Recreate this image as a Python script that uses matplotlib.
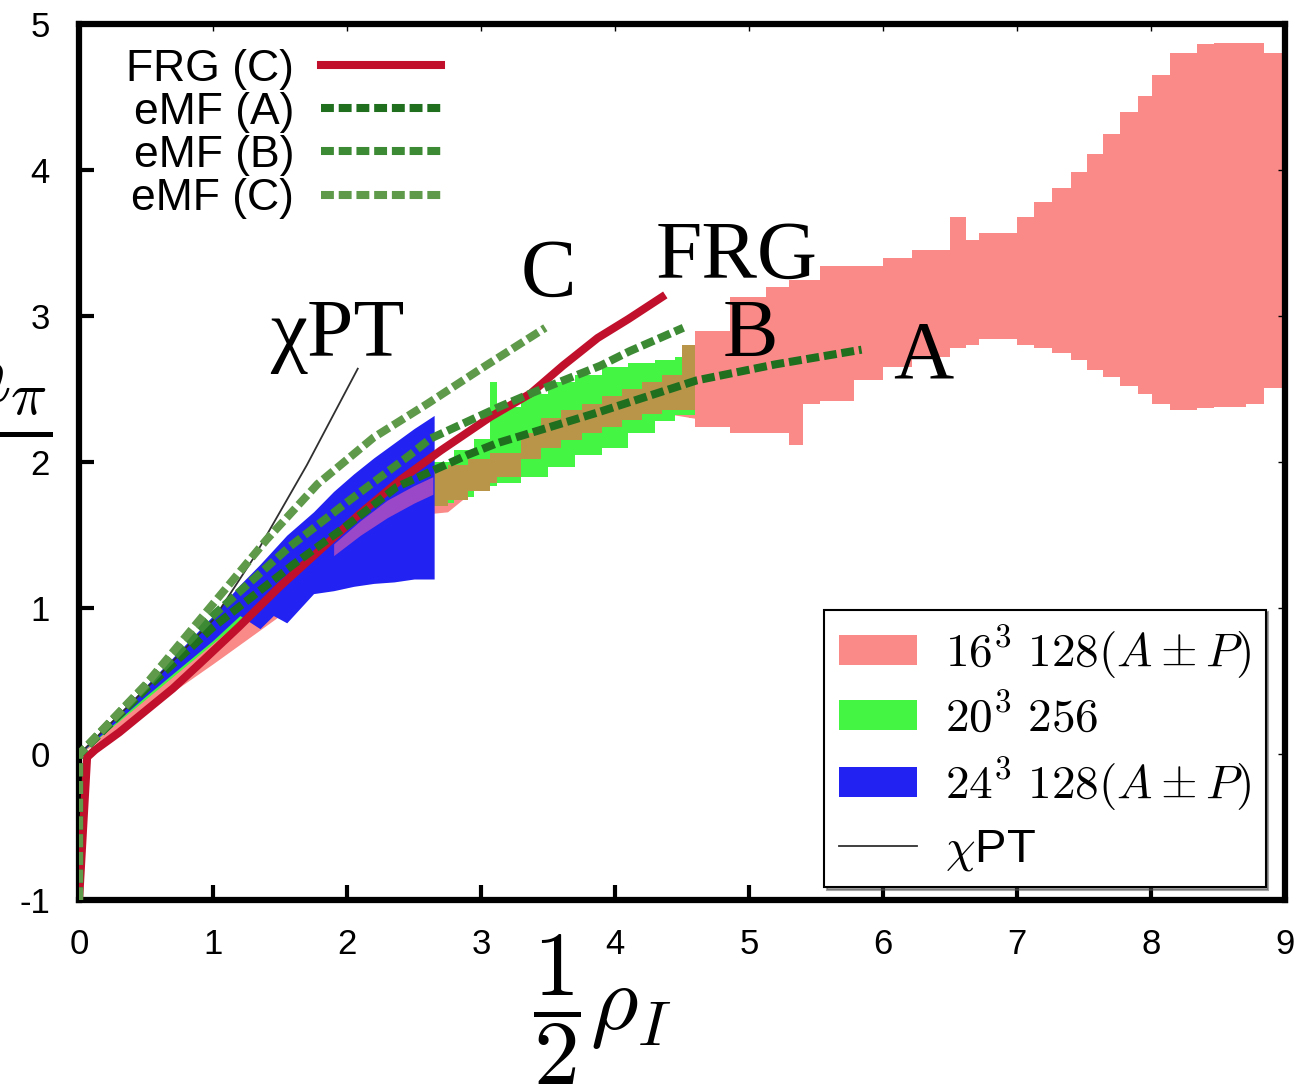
import matplotlib
matplotlib.use('Agg')
import matplotlib.pyplot as plt
from matplotlib.lines import Line2D
from matplotlib.patches import Patch

plt.rcParams['font.family'] = ['Liberation Sans', 'DejaVu Sans']
plt.rcParams['mathtext.fontset'] = 'cm'
plt.rcParams['axes.unicode_minus'] = False

# lattice bands (x, lower, upper)
# 16^3 band: left part sits under the other bands, right part is a staircase
pinkL_x = [0.0, 0.5, 1.0, 1.5, 2.0, 2.3, 2.64, 2.75, 3.07, 3.12, 3.5, 3.8, 4.1, 4.4, 4.6]
pinkL_hi = [0.0, 0.4, 0.78, 1.1, 1.5, 1.75, 1.95, 1.98, 2.06, 2.2, 2.38, 2.45, 2.49, 2.6, 2.8]
pinkL_lo = [0.0, 0.3, 0.62, 0.95, 1.3, 1.5, 1.65, 1.66, 1.9, 1.95, 2.13, 2.2, 2.28, 2.33, 2.3]

pink_x = [4.55, 4.6, 4.86, 5.13, 5.3, 5.4, 5.53, 5.78, 6.0, 6.22, 6.5, 6.62, 6.72,
          7.0, 7.13, 7.26, 7.4, 7.52, 7.64, 7.77, 7.9, 8.01, 8.14, 8.34, 8.47, 8.71,
          8.84, 9.0]
pink_hi = [2.8, 2.9, 3.13, 3.2, 3.25, 3.25, 3.34, 3.34, 3.4, 3.45, 3.68, 3.52, 3.57,
           3.68, 3.78, 3.88, 3.99, 4.11, 4.25, 4.4, 4.51, 4.65, 4.8, 4.86, 4.87, 4.87,
           4.8, 4.77]
pink_lo = [2.3, 2.24, 2.2, 2.2, 2.12, 2.4, 2.42, 2.56, 2.65, 2.72, 2.78, 2.8, 2.84,
           2.8, 2.78, 2.75, 2.7, 2.63, 2.58, 2.52, 2.47, 2.4, 2.36, 2.37, 2.38, 2.4,
           2.51, 2.54]

# 20^3 band: smooth part under the blue band, staircase part beyond it
greenL_x = [0.0, 0.5, 1.0, 1.4, 1.8, 2.2, 2.65]
greenL_hi = [0.0, 0.45, 0.9, 1.27, 1.6, 1.85, 2.0]
greenL_lo = [0.0, 0.38, 0.76, 1.06, 1.35, 1.55, 1.72]

green_x = [2.64, 2.8, 2.95, 3.07, 3.12, 3.3, 3.5, 3.7, 3.9, 4.1, 4.3, 4.45, 4.6]
green_hi = [2.0, 2.08, 2.16, 2.55, 2.38, 2.47, 2.55, 2.6, 2.65, 2.68, 2.7, 2.72, 2.72]
green_lo = [1.72, 1.76, 1.8, 1.84, 1.86, 1.9, 1.97, 2.05, 2.1, 2.2, 2.28, 2.32, 2.34]

# pink/green overlap (brown) and pink/blue overlap (purple)
brown_x = [2.64, 2.75, 2.9, 3.07, 3.12, 3.3, 3.45, 3.6, 3.75, 3.9, 4.05, 4.2, 4.35, 4.5, 4.6]
brown_hi = [1.95, 1.98, 2.02, 2.06, 2.06, 2.2, 2.3, 2.36, 2.4, 2.45, 2.5, 2.55, 2.6, 2.8, 2.8]
brown_lo = [1.7, 1.74, 1.8, 1.86, 1.9, 2.02, 2.1, 2.15, 2.2, 2.24, 2.29, 2.33, 2.36,
            2.36, 2.36]

blue_x = [0.0, 0.5, 1.0, 1.2, 1.35, 1.45, 1.55, 1.65, 1.75, 1.9, 2.05, 2.2, 2.35,
          2.5, 2.65]
blue_hi = [0.0, 0.47, 0.95, 1.16, 1.3, 1.4, 1.5, 1.58, 1.66, 1.8, 1.92, 2.03, 2.13,
           2.23, 2.32]
blue_lo = [0.0, 0.4, 0.78, 0.95, 0.86, 0.95, 0.9, 1.0, 1.1, 1.12, 1.15, 1.17, 1.18,
           1.2, 1.2]

purple_x = [1.9, 2.1, 2.3, 2.5, 2.64]
purple_hi = [1.44, 1.6, 1.74, 1.84, 1.9]
purple_lo = [1.36, 1.5, 1.62, 1.72, 1.78]

# model curves
frg_x = [0.0, 0.06, 0.12, 0.3, 0.5, 0.7, 0.9, 1.19, 1.5, 1.8, 2.1, 2.4, 2.7, 3.07,
         3.37, 3.61, 3.87, 4.1, 4.35]
frg_y = [-1.0, -0.02, 0.03, 0.15, 0.3, 0.45, 0.62, 0.87, 1.15, 1.4, 1.65, 1.88, 2.08,
         2.31, 2.47, 2.66, 2.85, 2.98, 3.13]

emfA_x = [0.0, 0.0, 0.5, 1.0, 1.6, 2.02, 2.37, 2.9, 3.12, 3.87, 4.61, 5.2, 5.84]
emfA_y = [-1.0, 0.0, 0.45, 0.87, 1.3, 1.58, 1.83, 2.05, 2.13, 2.34, 2.56, 2.67, 2.77]
emfB_x = [0.0, 0.0, 0.5, 1.0, 1.57, 2.02, 2.47, 2.62, 3.14, 3.37, 3.89, 4.11, 4.51]
emfB_y = [-1.0, 0.0, 0.47, 0.95, 1.42, 1.74, 2.05, 2.16, 2.38, 2.47, 2.66, 2.76, 2.92]
emfC_x = [0.0, 0.0, 0.5, 0.9, 1.4, 1.78, 2.2, 2.6, 3.0, 3.48]
emfC_y = [-1.0, 0.0, 0.48, 0.92, 1.47, 1.85, 2.17, 2.4, 2.64, 2.92]

chpt_x = [0.0, 0.5, 1.0, 1.3, 1.7, 2.08]
chpt_y = [0.0, 0.45, 0.92, 1.34, 1.98, 2.64]

c_pink = '#fa8a88'
c_green = '#44f544'
c_blue = '#2222f2'
c_brown = '#b9954a'
c_purple = '#9a48c8'
c_red = '#c0102c'
c_A = '#1f6f1f'
c_B = '#3d8a35'
c_C = '#5e9a4a'

lw = 5.8
dash = (0, (1.6, 0.6))

fig = plt.figure(figsize=(12.96, 10.9), dpi=100)
ax = fig.add_axes([0.061, 0.174, 0.9305, 0.804])

ax.fill_between(pinkL_x, pinkL_lo, pinkL_hi, color=c_pink, lw=0, zorder=1)
ax.fill_between(pink_x, pink_lo, pink_hi, step='post', color=c_pink, lw=0, zorder=1)
ax.fill_between(greenL_x, greenL_lo, greenL_hi, color=c_green, lw=0, zorder=1.1)
ax.fill_between(green_x, green_lo, green_hi, step='post', color=c_green, lw=0, zorder=1.1)
ax.fill_between(brown_x, brown_lo, brown_hi, step='post', color=c_brown, lw=0, zorder=1.2)
ax.fill_between(blue_x, blue_lo, blue_hi, color=c_blue, lw=0, zorder=1.3)
ax.fill_between(purple_x, purple_lo, purple_hi, color=c_purple, lw=0, zorder=1.4)

ax.plot(chpt_x, chpt_y, color='#303030', lw=1.3, zorder=2)
ax.plot(frg_x, frg_y, color=c_red, lw=lw, zorder=3)
ax.plot(emfA_x, emfA_y, color=c_A, lw=lw, ls=dash, dash_capstyle='butt', zorder=3.1)
ax.plot(emfB_x, emfB_y, color=c_B, lw=lw, ls=dash, dash_capstyle='butt', zorder=3.2)
ax.plot(emfC_x, emfC_y, color=c_C, lw=lw, ls=dash, dash_capstyle='butt', zorder=3.3)

# curve labels
serif = dict(family='Liberation Serif', fontsize=60, ha='center', va='baseline')
ax.text(1.93, 2.73, 'χPT', **serif)
ax.text(3.50, 3.14, 'C', **serif)
ax.text(4.91, 3.26, 'FRG', **serif)
ax.text(5.01, 2.73, 'B', **serif)
ax.text(6.30, 2.58, 'A', **serif)

ax.set_xlim(0, 9)
ax.set_ylim(-1, 5)
ax.set_xticks(range(0, 10))
ax.set_yticks(range(-1, 6))
ax.tick_params(direction='in', length=11, width=3, labelsize=25, pad=20,
               top=True, right=True)
ax.tick_params(axis='y', pad=21)
for t in ax.xaxis.get_major_ticks() + ax.yaxis.get_major_ticks():
    t.tick2line.set_markersize(5)
    t.tick2line.set_markeredgewidth(1)
for s in ax.spines.values():
    s.set_linewidth(4.5)

# model legend (top left)
h1 = [Line2D([], [], color=c_red, lw=lw),
      Line2D([], [], color=c_A, lw=lw, ls=dash, dash_capstyle='butt'),
      Line2D([], [], color=c_B, lw=lw, ls=dash, dash_capstyle='butt'),
      Line2D([], [], color=c_C, lw=lw, ls=dash, dash_capstyle='butt')]
l1 = ['FRG (C)', 'eMF (A)', 'eMF (B)', 'eMF (C)']
leg1 = ax.legend(h1, l1, loc='upper right', bbox_to_anchor=(0.30, 0.972),
                 frameon=False, markerfirst=False, fontsize=32, labelspacing=0.05,
                 handlelength=2.7, handletextpad=0.6, borderpad=0, borderaxespad=0)
ax.add_artist(leg1)

# lattice legend (bottom right)
h2 = [Patch(facecolor=c_pink, edgecolor='none'),
      Patch(facecolor=c_green, edgecolor='none'),
      Patch(facecolor=c_blue, edgecolor='none'),
      Line2D([], [], color='#303030', lw=1.3)]
l2 = [r'$16^3\ 128(A\pm P)$', r'$20^3\ 256$', r'$24^3\ 128(A\pm P)$', r'$\chi$PT']
leg2 = ax.legend(h2, l2, loc='lower right', bbox_to_anchor=(0.984, 0.015),
                 frameon=True, shadow=True, fancybox=False, edgecolor='black',
                 fontsize=34, handlelength=1.65, handleheight=0.6, handletextpad=0.6,
                 labelspacing=0.3, borderpad=0.3, borderaxespad=0)
leg2.get_frame().set_linewidth(1.5)

# axis labels
fig.text(602 / 1296, 1 - 1030 / 1090, r'$\dfrac{1}{2}\rho_I$', fontsize=66,
         ha='center', va='baseline')
fig.text(6 / 1296, 1 - 447 / 1090, r'$\dfrac{n_\pi}{\ }$', fontsize=62,
         ha='center', va='baseline')

fig.savefig('out.png', dpi=100)
